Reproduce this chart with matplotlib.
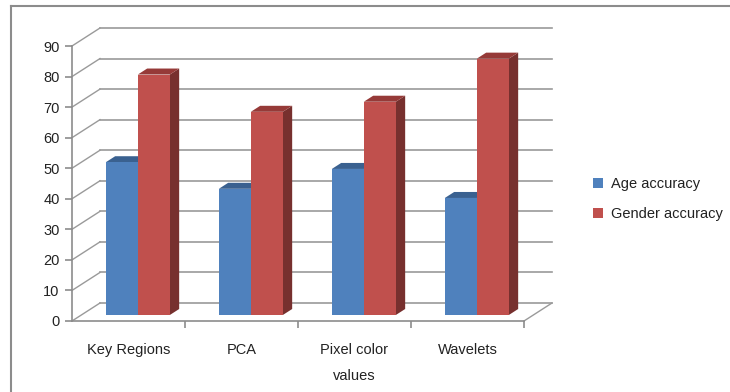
import matplotlib
matplotlib.use("Agg")
import matplotlib.pyplot as plt
from matplotlib.patches import Polygon, Rectangle
from matplotlib.lines import Line2D

categories = ["Key Regions", "PCA", "Pixel color\nvalues", "Wavelets"]
age_accuracy = [50, 41.3, 47.8, 38.3]
gender_accuracy = [78.7, 66.5, 69.8, 83.9]
series_names = ["Age accuracy", "Gender accuracy"]
y_ticks = list(range(0, 100, 10))

W, H = 730, 392
fig = plt.figure(figsize=(W / 100, H / 100), dpi=100)
fig.patch.set_facecolor("white")

# front plane of the 3-D box in figure pixels
fx0, fx1, fy0, fy1 = 72, 524, 321, 46
ax = fig.add_axes([fx0 / W, 1 - fy0 / H, (fx1 - fx0) / W, (fy0 - fy1) / H])
ax.set_xlim(0, 4)
ax.set_ylim(0, 90)
ax.patch.set_alpha(0)

# depth offset of the back wall, in data units
DX = 28 / ((fx1 - fx0) / 4)
DY = 18 / ((fy0 - fy1) / 90)

grid_col = "#9a9a9a"
# back wall gridlines and side-wall diagonals
for v in y_ticks:
    ax.plot([DX, 4 + DX], [v + DY, v + DY], color=grid_col, lw=1.2,
            clip_on=False, zorder=1)
    ax.plot([0, DX], [v, v + DY], color=grid_col, lw=1.0,
            clip_on=False, zorder=1)
# floor right edge
ax.plot([4, 4 + DX], [0, DY], color=grid_col, lw=1.0, clip_on=False, zorder=1)

for s in ["top", "right"]:
    ax.spines[s].set_visible(False)
for s in ["left", "bottom"]:
    ax.spines[s].set_color("#8c8c8c")
    ax.spines[s].set_linewidth(1.2)

font = "Liberation Sans"
ax.set_yticks(y_ticks)
ax.tick_params(axis="y", length=5, width=1.2, color="#8c8c8c", pad=4,
               labelsize=10.5, labelcolor="#222222")
ax.set_xticks([1, 2, 3, 4])
ax.set_xticklabels([])
ax.tick_params(axis="x", which="major", length=5, width=1.2, color="#8c8c8c",
               direction="out")
ax.set_xticks([0.5, 1.5, 2.5, 3.5], minor=True)
ax.set_xticklabels(categories, minor=True, fontsize=10.5, color="#222222",
                   linespacing=2.1)
ax.tick_params(axis="x", which="minor", length=0, pad=16)
for lab in ax.get_yticklabels() + ax.get_xticklabels(minor=True):
    lab.set_family(font)

# bars: front face at 1/3 depth, back at 2/3 depth
d0, d1 = 1 / 3, 2 / 3
bw = 32 / ((fx1 - fx0) / 4)
styles = [
    ("#4F81BD", "#3A6190", "#2F5078"),
    ("#C0504D", "#963A38", "#77302E"),
]
for i in range(len(categories)):
    cx = i + 0.5 + d0 * DX
    base = d0 * DY
    for s, vals in enumerate([age_accuracy, gender_accuracy]):
        front, top, side = styles[s]
        x0 = cx - bw + s * bw
        x1 = x0 + bw
        h = vals[i] + base
        ddx, ddy = (d1 - d0) * DX, (d1 - d0) * DY
        ax.add_patch(Polygon([[x1, base], [x1 + ddx, base + ddy],
                              [x1 + ddx, h + ddy], [x1, h]],
                             closed=True, facecolor=side, edgecolor="none",
                             clip_on=False, zorder=3 + s))
        ax.add_patch(Polygon([[x0, h], [x1, h], [x1 + ddx, h + ddy],
                              [x0 + ddx, h + ddy]],
                             closed=True, facecolor=top, edgecolor="none",
                             clip_on=False, zorder=3 + s))
        ax.add_patch(Rectangle((x0, base), bw, vals[i], facecolor=front,
                               edgecolor="none", clip_on=False, zorder=3 + s))

# legend
handles = [Rectangle((0, 0), 1, 1, facecolor=styles[k][0], edgecolor="none")
           for k in range(2)]
fig.legend(handles, series_names, loc="center left",
           bbox_to_anchor=(580 / W, 1 - 199 / H), frameon=False,
           prop={"family": font, "size": 10.5}, handlelength=0.7,
           handleheight=0.7, handletextpad=0.5, labelspacing=1.1,
           labelcolor="#222222")

# chart-area border
fig.add_artist(Line2D([11 / W, 1], [1 - 6 / H, 1 - 6 / H], color="#8c8c8c",
                      lw=1.5, transform=fig.transFigure))
fig.add_artist(Line2D([11 / W, 11 / W], [0, 1 - 6 / H], color="#8c8c8c",
                      lw=1.5, transform=fig.transFigure))

fig.savefig("out.png", dpi=100)
